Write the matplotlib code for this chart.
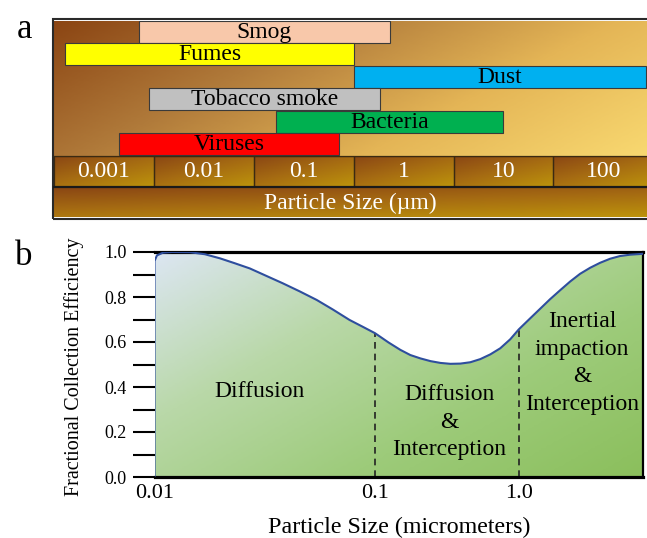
import numpy as np
import matplotlib
matplotlib.use("Agg")
import matplotlib.pyplot as plt
from matplotlib.colors import LinearSegmentedColormap
from matplotlib.patches import Rectangle

plt.rcParams['font.family'] = ['Liberation Serif', 'DejaVu Serif']

# ---- panel a data: particle size ranges (micrometers)
sources = ["Smog", "Fumes", "Dust", "Tobacco smoke", "Bacteria", "Viruses"]
size_lo = [0.0071, 0.0013, 1.0, 0.0090, 0.166, 0.0045]
size_hi = [2.30, 1.0, 840.0, 1.82, 31.0, 0.72]
bar_colors = ["#F8C8AA", "#FFFF00", "#00B0F0", "#C0C0C0", "#00B050", "#FF0000"]
decade_labels = ["0.001", "0.01", "0.1", "1", "10", "100"]

# ---- panel b data: fractional collection efficiency curve
eff_x = [0.01, 0.01, 0.01026, 0.01093, 0.0120, 0.01448, 0.01693, 0.01978,
         0.02312, 0.02704, 0.03194, 0.03814, 0.04553, 0.05435, 0.0642, 0.0766,
         0.0878, 0.1, 0.124, 0.150, 0.176, 0.207, 0.243, 0.285, 0.334, 0.392,
         0.460, 0.540, 0.634, 0.743, 0.872, 1.0, 1.20, 1.41, 1.65, 1.94, 2.28,
         2.67, 3.14, 3.68, 4.32, 5.06, 5.94, 6.97, 7.32]
eff_y = [0.0, 0.96, 0.985, 0.997, 1.0, 0.999, 0.99, 0.972,
         0.95, 0.927, 0.895, 0.861, 0.825, 0.787, 0.745, 0.698,
         0.668, 0.639, 0.598, 0.565, 0.542, 0.527, 0.515, 0.507, 0.503, 0.504,
         0.51, 0.524, 0.545, 0.572, 0.612, 0.656, 0.705, 0.748, 0.79, 0.83, 0.869,
         0.903, 0.93, 0.952, 0.97, 0.982, 0.988, 0.991, 0.992]
regions = ["Diffusion", "Diffusion\n&\nInterception", "Inertial\nimpaction\n&\nInterception"]
region_x = [0.030, 0.327, 2.76]
region_y = [0.378, 0.244, 0.507]
boundaries = [0.1, 1.0]

W, H = 647, 538
fig = plt.figure(figsize=(W / 100, H / 100), dpi=100)


def fbox(x0, y0, x1, y1):
    # pixel box (top-left origin) -> figure fraction rect
    return [x0 / W, 1 - y1 / H, (x1 - x0) / W, (y1 - y0) / H]


def diag(nx, ny, wx, wy):
    gx, gy = np.meshgrid(np.linspace(0, 1, nx), np.linspace(0, 1, ny))
    return wx * gx + wy * gy


brown = LinearSegmentedColormap.from_list(
    "brown", ["#8B4513", "#B07A3A", "#E4B556", "#F8D870"])
cellmap = LinearSegmentedColormap.from_list(
    "cell", ["#8A4614", "#A66C12", "#BC920C"])

# ---- panel a: size ranges
ax_a = fig.add_axes(fbox(54, 20.5, 647, 155.5))
ax_a.imshow(diag(200, 60, 0.7, 0.3), extent=[0, 1, 0, 1], transform=ax_a.transAxes,
            aspect="auto", cmap=brown, zorder=0)
ax_a.set_xscale("log")
rows = np.arange(len(sources))[::-1] + 0.5
lo = np.array(size_lo)
hi = np.array(size_hi)
ax_a.barh(rows, hi - lo, left=lo, height=0.97, color=bar_colors,
          edgecolor="#3a3a3a", linewidth=0.8, zorder=2)
for r, name, a, b in zip(rows, sources, lo, hi):
    ax_a.text(np.sqrt(a * b), r - 0.02, name, ha="center", va="center",
              fontsize=17, zorder=3)
ax_a.set_xlim(1e-3, 10 ** 2.936)
ax_a.set_ylim(0, 6)
ax_a.axis("off")

# decade scale row
ax_s = fig.add_axes(fbox(54, 155.5, 647, 186.5))
for i, lab in enumerate(decade_labels):
    ax_s.imshow(diag(60, 20, 0.45, 0.55), extent=(i, i + 1, 0, 1),
                aspect="auto", cmap=cellmap, zorder=0)
    ax_s.add_patch(Rectangle((i, 0), 1, 1, fill=False, edgecolor="#3b2a12",
                             linewidth=0.9, zorder=1))
    ax_s.text(i + 0.5, 0.47, lab, color="white", ha="center", va="center",
              fontsize=17, zorder=2)
ax_s.set_xlim(0, 5.936)
ax_s.set_ylim(0, 1)
ax_s.axis("off")

# axis title row
ax_l = fig.add_axes(fbox(54, 187.5, 647, 217.5))
ax_l.imshow(diag(200, 30, 0.35, 0.65), extent=[0, 1, 0, 1], transform=ax_l.transAxes,
            aspect="auto", cmap=cellmap, zorder=0)
ax_l.text(0.5, 0.47, "Particle Size (\u00b5m)", color="white", ha="center",
          va="center", fontsize=17, transform=ax_l.transAxes)
ax_l.set_xlim(0, 1)
ax_l.set_ylim(0, 1)
ax_l.axis("off")

frame = Rectangle((53 / W, 1 - 218.5 / H), 1.2, 200 / H, transform=fig.transFigure,
                  fill=False, edgecolor="#2a2a2a", linewidth=1.5)
fig.patches.append(frame)
fig.add_artist(plt.Line2D([54 / W, 1], [1 - 187 / H] * 2, transform=fig.transFigure,
                          color="#1a1a1a", linewidth=1.6))
fig.add_artist(plt.Line2D([54 / W, 1], [1 - 155.5 / H] * 2, transform=fig.transFigure,
                          color="#3b2a12", linewidth=0.9))

# ---- panel b: efficiency curve
BRK = 1.535  # stretch of the 0.01-0.1 decade in the original


def fwd(x):
    u = np.log10(np.clip(x, 1e-12, None))
    return np.where(u < -1, (u + 2) * BRK, BRK + (u + 1))


def inv(p):
    return np.where(p < BRK, 10 ** (p / BRK - 2), 10 ** (p - BRK - 1))


ax_b = fig.add_axes(fbox(154.5, 252, 643, 477))
ax_b.set_xscale("function", functions=(fwd, inv))
fill = ax_b.fill_between(eff_x, 0, eff_y, color="none", zorder=1)
greens = LinearSegmentedColormap.from_list(
    "greens", ["#DCE6F2", "#B9D8A8", "#9DCB7A", "#8BBF5C"])
im = ax_b.imshow(diag(200, 100, 0.55, 0.45), extent=[0, 1, 0, 1],
                 transform=ax_b.transAxes, aspect="auto", cmap=greens, zorder=1)
im.set_clip_path(fill.get_paths()[0], ax_b.transData)
ax_b.plot(eff_x, eff_y, color="#2E4E9E", linewidth=1.5, zorder=3,
          solid_joinstyle="round")
for bx in boundaries:
    ax_b.plot([bx, bx], [0, eff_y[eff_x.index(bx)]], color="#222222",
              linewidth=1.2, linestyle=(0, (4, 3)), zorder=2)
for txt, tx, ty in zip(regions, region_x, region_y):
    ax_b.text(tx, ty, txt, ha="center", va="center", fontsize=17,
              linespacing=1.42, zorder=4)

ax_b.set_xlim(0.01, 7.32)
ax_b.set_ylim(0, 1.0)
ax_b.set_xticks([0.01, 0.1, 1.0], ["0.01", "0.1", "1.0"], fontsize=16)
ax_b.set_xticks([], minor=True)
ax_b.tick_params(axis="x", length=0, pad=5)
ax_b.set_yticks(np.arange(0, 1.01, 0.2), ["0.0", "0.2", "0.4", "0.6", "0.8", "1.0"],
                fontsize=13)
ax_b.set_yticks(np.arange(0.1, 1.0, 0.2), minor=True)
ax_b.tick_params(axis="y", which="both", length=16, width=1.5, pad=4,
                 direction="out")
ax_b.spines["left"].set_visible(False)
for s in ["top", "bottom"]:
    ax_b.spines[s].set_linewidth(2.3)
ax_b.spines["right"].set_linewidth(1.6)

fig.text(74.5 / W, 1 - 366.5 / H, "Fractional Collection Efficiency", rotation=90,
         ha="center", va="center", fontsize=14.5)
fig.text(399.5 / W, 1 - 527 / H, "Particle Size (micrometers)", ha="center",
         va="center", fontsize=17.3)

fig.text(24 / W, 1 - 38 / H, "a", ha="center", va="baseline", fontsize=25)
fig.text(24 / W, 1 - 265 / H, "b", ha="center", va="baseline", fontsize=25)

fig.savefig("out.png", dpi=100)
